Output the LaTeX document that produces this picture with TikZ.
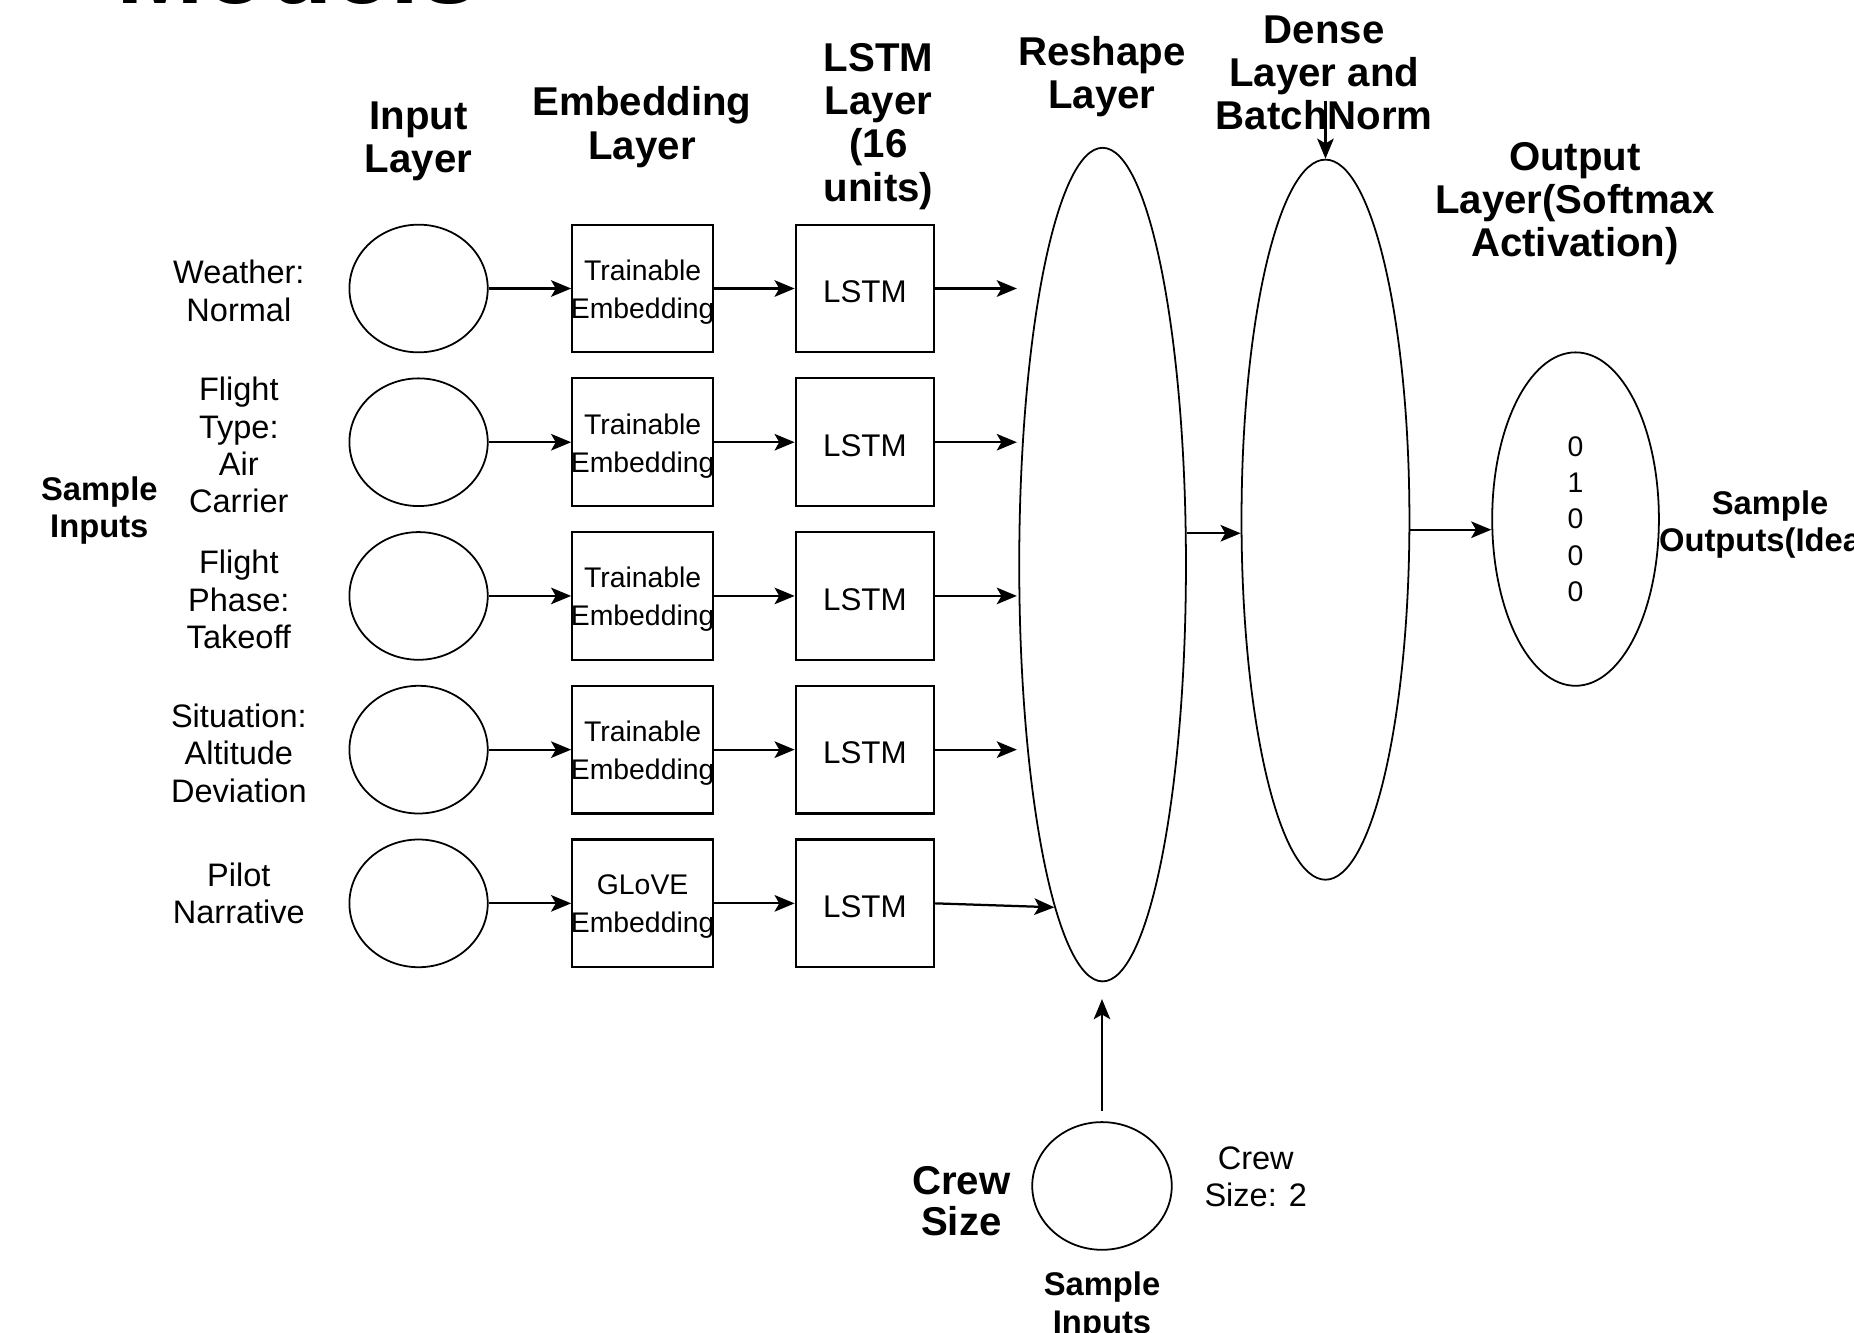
\documentclass[tikz,border=0pt]{standalone}
\usepackage{fontspec}
\setmainfont{Liberation Sans}
\usetikzlibrary{arrows.meta,shapes.geometric}

\begin{document}
\begin{tikzpicture}[x=1pt,y=-1pt,
  thin line/.style={line width=1.5pt},
  arr/.style={line width=1.9pt,-{Stealth[length=17pt,width=14pt,inset=4pt]}},
  inputnode/.style={draw,thin line,ellipse,minimum width=117,minimum height=108,inner sep=0pt},
  layer/.style={draw,thin line,ellipse,inner sep=0pt},
  boxtext/.style={align=center,inner sep=0pt},
  embbox/.style={draw,line width=1.9pt,rectangle,minimum width=119,minimum height=108,inner sep=0pt},
  lstmbox/.style={draw,line width=1.9pt,rectangle,minimum width=117,minimum height=108,inner sep=0pt},
  lbl/.style={align=center,inner sep=0pt,font=\fontsize{27.5}{31.5}\selectfont},
  hdr/.style={align=center,inner sep=0pt,font=\bfseries\fontsize{34}{36.5}\selectfont},
  smp/.style={align=center,inner sep=0pt,font=\bfseries\fontsize{27.7}{31.5}\selectfont}]

\useasboundingbox (0,0) rectangle (1568,1127);
\clip (0,0) rectangle (1568,1127);
\fill[white] (0,0) rectangle (1568,1127);

% slide title, mostly above the page edge
\node[anchor=base west,inner sep=0pt,font=\bfseries\fontsize{89}{94}\selectfont] (title) at (98,3) {Models};

% column headers
\node[hdr] (hInput) at (354,119.5) {Input\\Layer};
\node[hdr] (hEmb) at (543,107.5) {Embedding\\Layer};
\node[hdr] (hLstm) at (743,107) {LSTM\\Layer\\(16\\units)};
\node[hdr] (hReshape) at (932,65) {Reshape\\Layer};
\node[hdr] (hDense) at (1120,61.5) {Dense\\Layer and\\BatchNorm};
\node[hdr] (hOut) at (1332,172.5) {Output\\Layer(Softmax\\Activation)};

% sample input values
\node[smp] (sampleIn) at (84,431.5) {Sample\\Inputs};
\node[lbl] (l1) at (202,246) {Weather:\\Normal};
\node[lbl] (l2) at (202,376.5) {Flight\\Type:\\Air\\Carrier};
\node[lbl] (l3) at (202,507) {Flight\\Phase:\\Takeoff};
\node[lbl] (l4) at (202,637) {Situation:\\Altitude\\Deviation};
\node[lbl] (l5) at (202,755.5) {Pilot\\Narrative};

% input, embedding and LSTM rows
\foreach \i/\y/\emb in {1/244/Trainable,2/374/Trainable,3/504/Trainable,4/634/Trainable,5/764/GLoVE}{
  \node[inputnode] (in\i) at (354,\y) {};
  \node[embbox,label={[boxtext,yshift=-3pt,font=\fontsize{24}{32}\selectfont]center:\emb\\Embedding}] (emb\i) at (543.5,\y) {};
  \node[lstmbox,label={[boxtext,yshift=-3pt,font=\fontsize{26.5}{31}\selectfont]center:LSTM}] (lstm\i) at (731.5,\y) {};
  \draw[arr] (in\i.east) -- (emb\i.west);
  \draw[arr] (emb\i.east) -- (lstm\i.west);
}

% merged layers
\node[layer,minimum width=141,minimum height=705] (reshape) at (932.5,477.5) {};
\node[layer,minimum width=142,minimum height=609] (dense) at (1121,439.5) {};
\node[layer,minimum width=141,minimum height=282,font=\fontsize{24}{30.75}\selectfont,align=center]
  (out) at (1332.5,439) {0\\1\\0\\0\\0};

% LSTM outputs into the reshape layer
\foreach \i/\y in {1/244,2/374,3/504,4/634}{
  \coordinate (r\i) at (860,\y);
  \draw[arr] (lstm\i.east) -- (r\i);
}
\draw[arr] (lstm5.east) -- (reshape.262);

\draw[arr] (reshape.east |- 0,451) -- (dense.west |- 0,451);
\draw[arr] (dense.east |- 0,448) -- (out.west |- 0,448);
\coordinate (denseIn) at (1121,85);
\draw[arr] (denseIn) -- (dense.north);

\node[smp] (sampleOut) at (1497,443.5) {Sample\\Outputs(Ideal)};

% crew size input
\node[inputnode,minimum width=118] (crew) at (932,1003) {};
\coordinate (reshapeIn) at (932,845);
\draw[arr] ([yshift=9pt]crew.north) -- (reshapeIn);
\node[hdr,font=\bfseries\fontsize{34}{35}\selectfont] (crewLbl) at (813,1016) {Crew\\Size};
\node[lbl] (crewVal) at (1062,995) {Crew\\Size: 2};
\node[smp] (sampleIn2) at (932,1104.5) {Sample\\Inputs};
\end{tikzpicture}
\end{document}
